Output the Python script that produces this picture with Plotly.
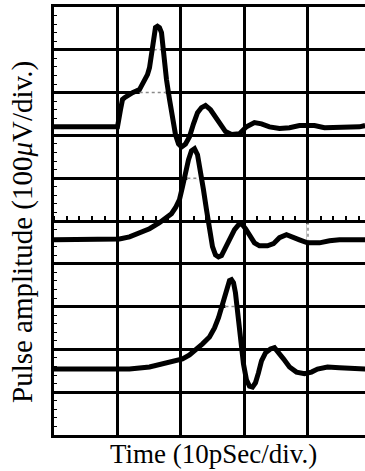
import plotly.graph_objects as go

# Time axis in screen divisions (10 ps/div), amplitude in divisions (100 uV/div).
# Each waveform is displayed at its own vertical offset on the screen.

pulse_a_t = [0.0, 1.0, 1.047, 1.079, 1.110, 1.173, 1.236, 1.346, 1.425, 1.472, 1.504, 1.535,
             1.567, 1.598, 1.630, 1.661, 1.693, 1.724, 1.772, 1.819, 1.866, 1.913, 1.961,
             2.008, 2.071, 2.134, 2.197, 2.260, 2.323, 2.386, 2.465, 2.543, 2.622, 2.701,
             2.795, 2.921, 3.031, 3.157, 3.268, 3.394, 3.551, 3.709, 3.866, 4.102, 4.260,
             4.575, 4.811, 4.90]
pulse_a_v = [7.20, 7.20, 7.60, 7.84, 7.88, 7.95, 8.00, 8.07, 8.26, 8.42, 8.58, 8.94,
             9.36, 9.52, 9.55, 9.52, 9.40, 8.89, 8.30, 7.84, 7.37, 7.02, 6.80,
             6.73, 6.80, 6.97, 7.27, 7.53, 7.65, 7.70, 7.60, 7.44, 7.27, 7.09,
             7.02, 7.04, 7.20, 7.30, 7.27, 7.20, 7.16, 7.18, 7.23, 7.23, 7.18,
             7.18, 7.20, 7.23]

pulse_b_t = [0.0, 0.874, 1.031, 1.189, 1.346, 1.504, 1.661, 1.772, 1.850, 1.913, 1.976,
             2.024, 2.071, 2.118, 2.165, 2.213, 2.260, 2.307, 2.354, 2.402, 2.449, 2.496,
             2.543, 2.591, 2.638, 2.701, 2.764, 2.843, 2.906, 2.953, 3.016, 3.079, 3.157,
             3.236, 3.362, 3.457, 3.551, 3.661, 3.772, 3.866, 3.992, 4.181, 4.339, 4.496,
             4.90]
pulse_b_v = [4.56, 4.58, 4.58, 4.63, 4.73, 4.82, 4.96, 5.08, 5.17, 5.31, 5.50,
             5.80, 6.13, 6.43, 6.64, 6.69, 6.55, 6.20, 5.73, 5.26, 4.80, 4.40,
             4.21, 4.16, 4.19, 4.37, 4.56, 4.80, 4.91, 4.94, 4.82, 4.65, 4.49,
             4.42, 4.42, 4.47, 4.61, 4.68, 4.63, 4.56, 4.49, 4.49, 4.54, 4.56,
             4.56]

pulse_c_t = [0.0, 1.189, 1.504, 1.709, 1.898, 2.024, 2.134, 2.244, 2.339, 2.449, 2.528,
             2.591, 2.638, 2.685, 2.732, 2.764, 2.795, 2.827, 2.858, 2.890, 2.937, 2.984,
             3.031, 3.079, 3.126, 3.173, 3.220, 3.268, 3.331, 3.409, 3.472, 3.535, 3.614,
             3.709, 3.819, 3.945, 4.055, 4.150, 4.307, 4.496, 4.90]
pulse_c_v = [1.54, 1.54, 1.59, 1.66, 1.71, 1.78, 1.87, 1.99, 2.13, 2.29, 2.50,
             2.74, 2.97, 3.23, 3.51, 3.61, 3.63, 3.56, 3.32, 2.88, 2.22, 1.66,
             1.29, 1.14, 1.12, 1.22, 1.45, 1.73, 1.92, 2.01, 2.04, 1.94, 1.78,
             1.59, 1.47, 1.43, 1.47, 1.54, 1.59, 1.57, 1.54]

x_title = "Time (10pSec/div.)"
y_title = "Pulse amplitude (100<i>\u03bc</i>V/div.)"

n_div_y = 10
x_visible = 4.898

# graticule segments shown dotted where they pass beneath a pulse
dotted_h = [(8, 1.35, 1.76), (9, 1.57, 1.71), (6, 2.10, 2.31), (3, 2.70, 2.87)]
dotted_v = [(4, 4.49, 4.94)]

fig = go.Figure()
for t, v in [(pulse_a_t, pulse_a_v), (pulse_b_t, pulse_b_v), (pulse_c_t, pulse_c_v)]:
    fig.add_trace(go.Scatter(x=t, y=v, mode="lines",
                             line=dict(color="black", width=5),
                             showlegend=False, hoverinfo="skip"))

# invisible trace on the centre-line axis so its ticks render
fig.add_trace(go.Scatter(x=[0], y=[0], xaxis="x2", mode="markers",
                         marker=dict(opacity=0), showlegend=False, hoverinfo="skip"))

shapes = []
for y, x0, x1 in dotted_h:
    shapes.append(dict(type="line", xref="x", yref="y", x0=x0, x1=x1, y0=y, y1=y,
                       line=dict(color="white", width=3.5), layer="between"))
    shapes.append(dict(type="line", xref="x", yref="y", x0=x0, x1=x1, y0=y, y1=y,
                       line=dict(color="#8a8a8a", width=1.5, dash="dot"), layer="between"))
for x, y0, y1 in dotted_v:
    shapes.append(dict(type="line", xref="x", yref="y", x0=x, x1=x, y0=y0, y1=y1,
                       line=dict(color="white", width=3.5), layer="between"))
    shapes.append(dict(type="line", xref="x", yref="y", x0=x, x1=x, y0=y0, y1=y1,
                       line=dict(color="#8a8a8a", width=1.5, dash="dot"), layer="between"))

font_family = "Liberation Serif, Times New Roman, serif"

fig.update_layout(
    width=365, height=471,
    margin=dict(l=54, r=0, t=7, b=36, pad=0),
    paper_bgcolor="white", plot_bgcolor="white",
    font=dict(family=font_family, color="black"),
    shapes=shapes,
    xaxis=dict(range=[0, x_visible], dtick=1, tick0=0, showgrid=True,
               gridcolor="black", gridwidth=2.5, zeroline=False,
               showline=True, linecolor="black", linewidth=2.5, mirror=True,
               showticklabels=False, ticks=""),
    xaxis2=dict(range=[0, x_visible], overlaying="x", anchor="free", position=0.5,
                side="top", dtick=0.2, tick0=0, ticks="outside", ticklen=5,
                tickwidth=1.5, tickcolor="black", showticklabels=False,
                showgrid=False, zeroline=False, showline=False),
    yaxis=dict(range=[0, n_div_y], dtick=1, tick0=0, showgrid=True,
               gridcolor="black", gridwidth=2.5, zeroline=False,
               showline=True, linecolor="black", linewidth=2.5, mirror=False,
               showticklabels=False, ticks="inside", ticklen=3, tickwidth=1,
               tickcolor="black",
               minor=dict(dtick=0.2, tick0=0, ticks="inside", ticklen=3,
                          tickwidth=1, tickcolor="black", showgrid=False)),
    annotations=[
        dict(text=x_title, xref="paper", yref="paper", x=0.513, y=-0.0444,
             xanchor="center", yanchor="middle", showarrow=False,
             font=dict(size=27, family=font_family, color="black")),
        dict(text=y_title, xref="paper", yref="paper", x=-0.1013, y=0.4755,
             xanchor="center", yanchor="middle", showarrow=False, textangle=-90,
             font=dict(size=29, family=font_family, color="black")),
    ],
)

fig.write_html("out.html")
